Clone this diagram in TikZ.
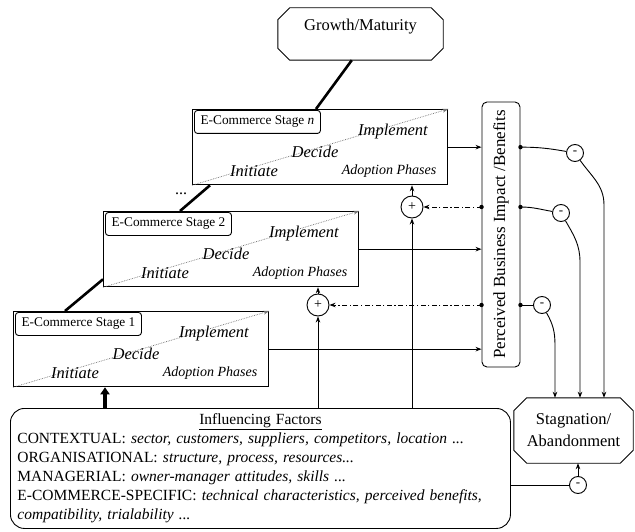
\documentclass[tikz,border=0pt]{standalone}
\usepackage{fontspec}
\setmainfont{Liberation Serif}[ItalicFont={Liberation Serif Italic}, BoldFont={Liberation Serif Bold}]
\usepackage{graphicx}
\usetikzlibrary{arrows.meta,calc}
\tikzset{
  ln/.style={line width=0.9pt},
  tip/.style={-{Stealth[length=6pt,width=4.5pt]}},
  stagebox/.style={draw, line width=1.3pt, minimum width=255pt, minimum height=75pt, anchor=north west, inner sep=0pt},
  stagelab/.style={draw, line width=0.9pt, rounded corners=3pt, minimum width=126pt, minimum height=23pt, anchor=north west, inner sep=0pt, font=\fontsize{13.3}{15}\selectfont},
  phase/.style={font=\fontsize{16.5}{18}\selectfont\itshape, inner sep=0pt},
  adop/.style={font=\fontsize{14}{16}\selectfont\itshape, inner sep=0pt},
  diag/.style={draw=black!55, line width=0.7pt, densely dotted, -{Stealth[length=6pt,width=4pt]}},
  thickline/.style={line width=2.6pt},
  sumnode/.style={draw, circle, line width=0.9pt, minimum size=22pt, inner sep=0pt, fill=white, font=\fontsize{14}{14}\selectfont},
  minusnode/.style={draw, circle, line width=0.9pt, minimum size=17pt, inner sep=0pt, fill=white, font=\fontsize{13}{13}\selectfont},
  dashdot/.style={line width=0.9pt, dash pattern=on 5pt off 2.5pt on 1.2pt off 2.5pt},
  octbox/.style={inner sep=0pt},
}
\newcommand\mkstage[4]{%
  \node[stagebox] (#1) at (#2,#3) {};
  \node[stagelab] (#1lab) at ($(#1.north west)+(2,1)$) {#4};
  \draw[diag] (#1.south west) -- (#1.north east);
  \node[phase] (#1imp) at ($(#1.north west)+(201,23)$) {Implement};
  \node[phase] (#1dec) at ($(#1.north west)+(123,43)$) {Decide};
  \node[phase] (#1ini) at ($(#1.north west)+(62,62)$) {Initiate};
  \node[adop] (#1ado) at ($(#1.north west)+(197,62)$) {Adoption Phases};
}
\newcommand\octpath[2]{%
  \draw[line width=0.9pt] ([xshift=#2]#1.north west) -- ([xshift=-#2]#1.north east)
    -- ([yshift=-#2]#1.north east) -- ([yshift=#2]#1.south east)
    -- ([xshift=-#2]#1.south east) -- ([xshift=#2]#1.south west)
    -- ([yshift=#2]#1.south west) -- ([yshift=-#2]#1.north west) -- cycle;
}
\begin{document}
\begin{tikzpicture}[x=1pt,y=-1pt]
\useasboundingbox (0,0) rectangle (635,532);

% Growth / Maturity
\node[octbox, minimum width=165pt, minimum height=52pt] (growth) at (360.5,34) {};
\octpath{growth}{12pt}
\node[font=\fontsize{16.5}{18}\selectfont, inner sep=0pt] (growthtext) at ($(growth.center)+(0,-7)$) {Growth/Maturity};

% stages
\mkstage{s1}{13}{311}{E-Commerce Stage 1}
\mkstage{s2}{103}{211}{E-Commerce Stage 2}
\mkstage{sn}{192}{109}{E-Commerce Stage \textit{n}}

\node[font=\fontsize{16}{16}\selectfont, inner sep=0pt] (dots) at (181,194) {...};

% thick links between stages
\draw[thickline] ([xshift=52pt]s1.north west) -- ([yshift=8pt]s2.south west);
\draw[thickline] ([xshift=77pt]s2.north west) -- ([xshift=18pt]sn.south west);
\draw[thickline] ([xshift=124pt]sn.north west) -- ([xshift=74pt]growth.south west);

% Perceived business impact
\node[draw, line width=0.9pt, rounded corners=5pt, minimum width=38pt, minimum height=265pt, inner sep=0pt] (pbi) at (501,234.5)
  {\rotatebox{90}{\fontsize{17}{18}\selectfont Perceived Business Impact /Benefits}};

% Influencing factors
\node[draw, line width=0.9pt, rounded corners=14pt, anchor=north west, text width=486pt, inner xsep=7pt, inner ysep=2pt,
      minimum height=120pt, align=left, font=\fontsize{15.5}{19}\selectfont] (inf) at (10,408)
{\makebox[\linewidth]{\underline{Influencing Factors}}\\
CONTEXTUAL: \textit{sector, customers, suppliers, competitors, location ...}\\
ORGANISATIONAL: \textit{structure, process, resources...}\\
MANAGERIAL: \textit{owner-manager attitudes, skills ...}\\
\makebox[\linewidth][s]{E-COMMERCE-SPECIFIC: \textit{technical characteristics, perceived benefits,}}\\
\textit{compatibility, trialability ...}};

% Stagnation
\node[octbox, minimum width=119pt, minimum height=65pt, align=center, font=\fontsize{16.5}{22}\selectfont] (stag) at (573.5,430.5) {Stagnation/\\Abandonment};
\octpath{stag}{13pt}

% plus / minus nodes
\node[sumnode] (pn) at (412,207) {+};
\node[sumnode] (p1) at (318,305) {+};
\node[minusnode] (m3) at (575,153) {-};
\node[minusnode] (m2) at (561,213) {-};
\node[minusnode] (m1) at (542,305) {-};
\node[minusnode] (m0) at (578,485) {-};

% thick arrow from factors to stage 1
\coordinate (ta) at ($(s1.south west)+(92,0)$);
\draw[line width=4pt, -{Triangle[length=7pt,width=9pt]}] (ta |- inf.north) -- (ta);

% stage outputs into PBI
\draw[ln,tip] (sn.east) -- (sn.east -| pbi.west);
\draw[ln,tip] (s2.east) -- (s2.east -| pbi.west);
\draw[ln,tip] (s1.east) -- (s1.east -| pbi.west);

% feedback dash-dot
\coordinate (l2) at (pbi.west |- pn);
\coordinate (l1) at (pbi.west |- p1);
\fill (l2) circle (2.2pt);
\fill (l1) circle (2.2pt);
\draw[dashdot,tip] (l2) -- (pn.east);
\draw[dashdot,tip] (l1) -- (p1.east);

% verticals from factors through sums
\draw[ln,tip] (pn |- inf.north) -- (pn.south);
\draw[ln,tip] (pn.north) -- (pn.north |- sn.south);
\draw[ln,tip] (p1 |- inf.north) -- (p1.south);
\draw[ln,tip] (p1.north) -- (p1.north |- s2.south);

% right side to stagnation
\coordinate (r3) at (pbi.east |- sn.east);
\coordinate (r2) at (pbi.east |- pn);
\coordinate (r1) at (pbi.east |- p1);
\fill (r3) circle (2.2pt);
\fill (r2) circle (2.2pt);
\fill (r1) circle (2.2pt);
\coordinate (k3) at (604,205);
\coordinate (k2) at (580,262);
\coordinate (k1) at (555,345);
\draw[ln] (r3) to[out=0,in=170] (m3);
\draw[ln,tip] (m3) to[out=-55,in=90] (k3) -- (k3 |- stag.north);
\draw[ln] (r2) to[out=0,in=170] (m2);
\draw[ln,tip] (m2) to[out=-60,in=90] (k2) -- (k2 |- stag.north);
\draw[ln] (r1) -- (m1);
\draw[ln,tip] (m1) to[out=-60,in=90] (k1) -- (k1 |- stag.north);

% factors to stagnation
\draw[ln] (inf.east |- m0) -- (m0);
\draw[ln,tip] (m0) -- (m0 |- stag.south);
\end{tikzpicture}
\end{document}
